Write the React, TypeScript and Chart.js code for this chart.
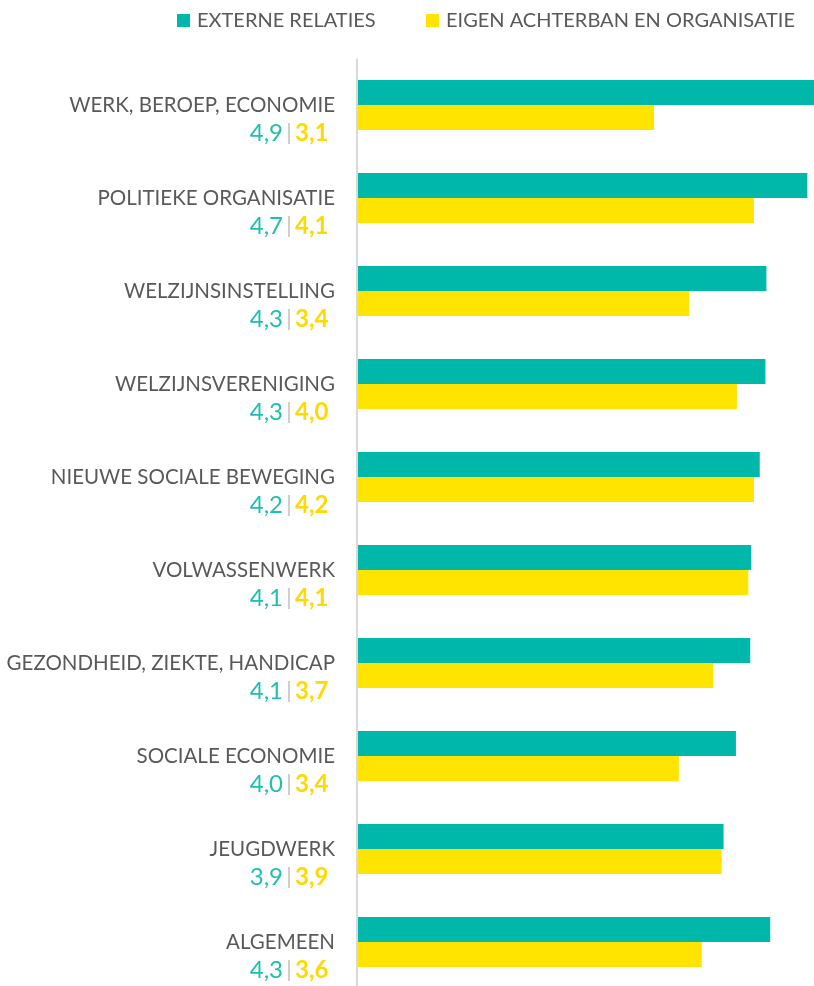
import React, { useEffect, useRef } from "react";
import { Chart, registerables } from "chart.js";

Chart.register(...registerables);

const categories = [
  "WERK, BEROEP, ECONOMIE",
  "POLITIEKE ORGANISATIE",
  "WELZIJNSINSTELLING",
  "WELZIJNSVERENIGING",
  "NIEUWE SOCIALE BEWEGING",
  "VOLWASSENWERK",
  "GEZONDHEID, ZIEKTE, HANDICAP",
  "SOCIALE ECONOMIE",
  "JEUGDWERK",
  "ALGEMEEN",
];

const seriesNames = ["EXTERNE RELATIES", "EIGEN ACHTERBAN EN ORGANISATIE"];

// bar values
const externeRelaties = [4.9, 4.72, 4.29, 4.28, 4.22, 4.13, 4.12, 3.97, 3.84, 4.33];
const eigenAchterban = [3.11, 4.16, 3.48, 3.98, 4.16, 4.1, 3.73, 3.37, 3.82, 3.61];

// printed value labels
const externeLabels = ["4,9", "4,7", "4,3", "4,3", "4,2", "4,1", "4,1", "4,0", "3,9", "4,3"];
const eigenLabels = ["3,1", "4,1", "3,4", "4,0", "4,2", "4,1", "3,7", "3,4", "3,9", "3,6"];

const TEAL = "#00B8AA";
const YELLOW = "#FFE400";
const TEAL_TEXT = "#1FBFB1";
const YELLOW_TEXT = "#FFD900";
const GRAY_TEXT = "#595959";
const FONT = "Lato, 'Open Sans', sans-serif";

const labelPlugin = {
  id: "customLabels",
  beforeDatasetsDraw(chart: any) {
    const ctx = chart.ctx;
    const area = chart.chartArea;
    ctx.save();
    ctx.strokeStyle = "#D9D9D9";
    ctx.lineWidth = 2;
    ctx.beginPath();
    ctx.moveTo(area.left - 1, area.top);
    ctx.lineTo(area.left - 1, chart.height);
    ctx.stroke();
    ctx.restore();
  },
  afterDraw(chart: any) {
    const ctx = chart.ctx;
    const yScale = chart.scales.y;
    ctx.save();
    // legend
    ctx.textBaseline = "middle";
    ctx.textAlign = "left";
    ctx.font = `20px ${FONT}`;
    const legendItems = [
      { x: 177, color: TEAL, text: seriesNames[0] },
      { x: 426, color: YELLOW, text: seriesNames[1] },
    ];
    legendItems.forEach((it) => {
      ctx.fillStyle = it.color;
      ctx.fillRect(it.x, 14, 13, 13);
      ctx.fillStyle = GRAY_TEXT;
      ctx.fillText(it.text, it.x + 20, 21);
    });

    categories.forEach((cat, i) => {
      const yc = yScale.getPixelForValue(i);
      ctx.textAlign = "right";
      ctx.textBaseline = "middle";
      ctx.font = `20.5px ${FONT}`;
      ctx.fillStyle = GRAY_TEXT;
      ctx.fillText(cat, 335, yc);

      const vy = yc + 28;
      const sep = 289;
      ctx.font = `24px ${FONT}`;
      ctx.fillStyle = TEAL_TEXT;
      ctx.textAlign = "right";
      ctx.fillText(externeLabels[i], sep - 6, vy);
      ctx.font = `bold 24px ${FONT}`;
      ctx.fillStyle = YELLOW_TEXT;
      ctx.textAlign = "left";
      ctx.fillText(eigenLabels[i], sep + 6, vy);
      ctx.strokeStyle = "#BFBFBF";
      ctx.lineWidth = 1.5;
      ctx.beginPath();
      ctx.moveTo(sep, vy - 10);
      ctx.lineTo(sep, vy + 11);
      ctx.stroke();
    });
    ctx.restore();
  },
};

export default function App() {
  const ref = useRef<HTMLCanvasElement>(null);
  useEffect(() => {
    if (!ref.current) return;
    const chart = new Chart(ref.current, {
      type: "bar",
      data: {
        labels: categories,
        datasets: [
          {
            label: seriesNames[0],
            data: externeRelaties,
            backgroundColor: TEAL,
            barPercentage: 1,
            categoryPercentage: 50 / 93,
          },
          {
            label: seriesNames[1],
            data: eigenAchterban,
            backgroundColor: YELLOW,
            barPercentage: 1,
            categoryPercentage: 50 / 93,
          },
        ],
      },
      options: {
        indexAxis: "y",
        responsive: false,
        animation: false,
        devicePixelRatio: 1,
        layout: { padding: { top: 58.5, bottom: 1.5, left: 358, right: 6 } },
        plugins: {
          legend: { display: false },
          tooltip: { enabled: false },
        },
        scales: {
          x: { display: false, min: 0, max: 5 },
          y: { display: false },
        },
      },
      plugins: [labelPlugin],
    });
    return () => chart.destroy();
  }, []);
  return (
    <div
      style={{
        position: "fixed",
        top: 0,
        left: 0,
        width: 814,
        height: 986,
        overflow: "hidden",
        background: "#fff",
      }}
    >
      <canvas ref={ref} width={840} height={990} style={{ width: 840, height: 990, display: "block" }} />
    </div>
  );
}
